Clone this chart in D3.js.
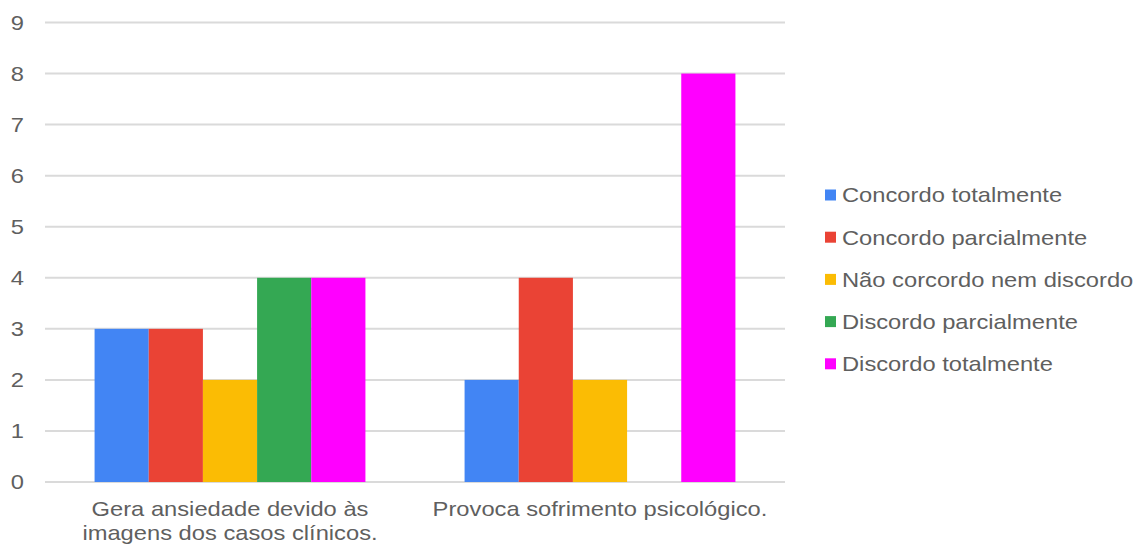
<!DOCTYPE html>
<html>
<head>
<meta charset="utf-8">
<script src="https://cdn.jsdelivr.net/npm/d3@7"></script>
<style>
  body { margin: 0; background: #fff; }
  svg { display: block; font-family: "Liberation Sans", Arial, sans-serif; }
</style>
</head>
<body>
<svg id="chart" width="1139" height="547"></svg>
<script>
const categories = [
  ["Gera ansiedade devido às", "imagens dos casos clínicos."],
  ["Provoca sofrimento psicológico."]
];
const seriesNames = [
  "Concordo totalmente",
  "Concordo parcialmente",
  "Não corcordo nem discordo",
  "Discordo parcialmente",
  "Discordo totalmente"
];
const seriesColors = ["#4285f4", "#ea4335", "#fbbc04", "#34a853", "#ff00ff"];
const concordoTotalmente = [3, 2];
const concordoParcialmente = [3, 4];
const naoConcordoNemDiscordo = [2, 2];
const discordoParcialmente = [4, 0];
const discordoTotalmente = [4, 8];
const yTicks = [0, 1, 2, 3, 4, 5, 6, 7, 8, 9];

const seriesValues = [concordoTotalmente, concordoParcialmente, naoConcordoNemDiscordo, discordoParcialmente, discordoTotalmente];

const svg = d3.select("#chart");
const plotLeft = 45, plotRight = 785, plotTop = 22.5, plotBottom = 482;
const textColor = "#5f5f5f";
const fontSize = 21;
const stretch = 1.13;

const y = d3.scaleLinear().domain([0, 9]).range([plotBottom, plotTop]);
const x0 = d3.scaleBand().domain(d3.range(categories.length)).range([plotLeft, plotRight])
  .paddingInner(0.268).paddingOuter(0.134);
const x1 = d3.scaleBand().domain(d3.range(seriesNames.length)).range([0, x0.bandwidth()]);

// gridlines
svg.append("g").selectAll("line").data(yTicks).join("line")
  .attr("x1", plotLeft).attr("x2", plotRight)
  .attr("y1", d => y(d)).attr("y2", d => y(d))
  .attr("stroke", "#dadada").attr("stroke-width", 2);

// y labels
const yAxis = d3.axisLeft(y).tickValues(yTicks).tickSize(0).tickPadding(0);
const ya = svg.append("g").attr("transform", `translate(24,0)`).call(yAxis);
ya.select(".domain").remove();
ya.selectAll("text").attr("fill", textColor).attr("x", 0)
  .attr("transform", `scale(${stretch},1)`)
  .style("font-size", fontSize + "px")
  .style("font-family", "'Liberation Sans', Arial, sans-serif");

// bars
const groups = svg.append("g").selectAll("g").data(categories.map((c, i) => i)).join("g")
  .attr("transform", i => `translate(${x0(i)},0)`);
groups.selectAll("rect").data(i => seriesValues.map((s, k) => ({k, v: s[i]})).filter(d => d.v > 0))
  .join("rect")
  .attr("x", d => x1(d.k)).attr("width", x1.bandwidth())
  .attr("y", d => y(d.v)).attr("height", d => y(0) - y(d.v))
  .attr("fill", d => seriesColors[d.k]);

// x labels
categories.forEach((lines, i) => {
  const cx = x0(i) + x0.bandwidth() / 2;
  lines.forEach((ln, j) => {
    svg.append("text").attr("text-anchor", "middle").attr("fill", textColor)
      .style("font-size", fontSize + "px")
      .attr("transform", `translate(${cx},${516 + j * 24}) scale(${stretch},1)`)
      .text(ln);
  });
});

// legend
const legend = svg.append("g").selectAll("g").data(seriesNames).join("g")
  .attr("transform", (d, i) => `translate(825, ${195 + i * 42.2})`);
legend.append("rect").attr("x", 0).attr("y", -5.5).attr("width", 11).attr("height", 11)
  .attr("fill", (d, i) => seriesColors[i]);
legend.append("text").attr("dy", "0.35em")
  .attr("transform", `translate(17,0) scale(${stretch},1)`)
  .attr("fill", textColor).style("font-size", fontSize + "px").text(d => d);
</script>
</body>
</html>
